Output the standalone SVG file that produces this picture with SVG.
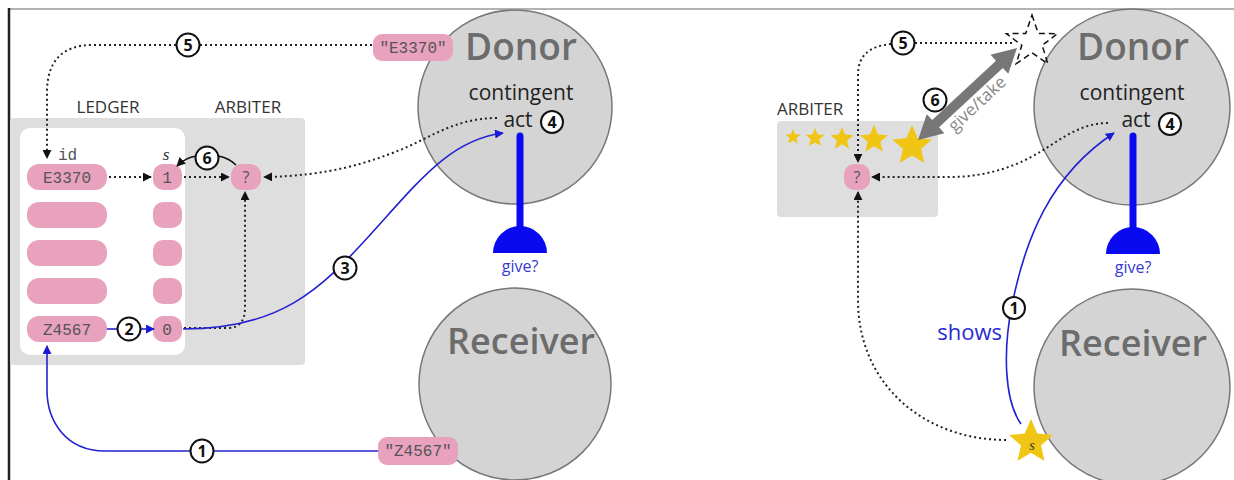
<svg xmlns="http://www.w3.org/2000/svg" width="1234" height="480" viewBox="0 0 1234 480">
<style>
.sans{font-family:"Open Sans","Noto Sans","DejaVu Sans",sans-serif}
.mono{font-family:"Liberation Mono","DejaVu Sans Mono",monospace;font-size:16px;fill:#555}
.pill{fill:#e8a2bd}
.big{fill:#d4d4d4;stroke:#777;stroke-width:1.5}
.title{font-family:"Open Sans","Noto Sans",sans-serif;font-weight:600;fill:#6c6c6c;text-anchor:middle}
.lbl{font-family:"Open Sans","Noto Sans",sans-serif;font-size:17px;fill:#333}
.ctx{font-family:"Open Sans","Noto Sans",sans-serif;font-size:21px;fill:#222;text-anchor:middle}
.dot{fill:none;stroke:#222;stroke-width:2;stroke-dasharray:2 3}
.blue{fill:none;stroke:#2222d0;stroke-width:1.6}
.num circle{fill:#fff;stroke:#111;stroke-width:2}
.num text{font-family:"Open Sans","DejaVu Sans",sans-serif;font-weight:bold;font-size:16px;fill:#111;text-anchor:middle}
.star{fill:#f1c514}
.stick{stroke:#0a0af0;stroke-width:7;stroke-linecap:round}
.give{font-family:"Open Sans","Noto Sans",sans-serif;font-size:16px;fill:#3a3ad0;text-anchor:middle}
</style>
<defs>
<marker id="ak" viewBox="0 0 10 10" refX="9" refY="5" markerWidth="9" markerHeight="9" markerUnits="userSpaceOnUse" orient="auto"><path d="M0,0 L10,5 L0,10 z" fill="#111"/></marker>
<marker id="ab" viewBox="0 0 10 10" refX="9" refY="5" markerWidth="9" markerHeight="9" markerUnits="userSpaceOnUse" orient="auto"><path d="M0,0 L10,5 L0,10 z" fill="#1a1ad8"/></marker>
</defs>
<rect x="0" y="0" width="1234" height="480" fill="#fff"/>
<line x1="8" y1="9" x2="1234" y2="9" stroke="#666" stroke-width="1.2"/>
<line x1="9" y1="8" x2="9" y2="480" stroke="#222" stroke-width="2.5"/>

<!-- LEFT PANEL -->
<g id="arbiter-left">
<rect x="10" y="118" width="295" height="247" rx="4" fill="#dedede"/>
<text class="lbl" x="248" y="113" text-anchor="middle">ARBITER</text>
<rect x="231" y="164" width="30" height="26" rx="11" class="pill"/>
<text class="sans" x="246" y="183" font-size="16" fill="#555" text-anchor="middle">?</text>
</g>
<g id="ledger">
<rect x="20" y="128" width="165" height="227" rx="10" fill="#fff"/>
<text class="lbl" x="108" y="113" text-anchor="middle">LEDGER</text>
<text class="mono" x="58" y="160">id</text>
<text x="166" y="160" font-family="Liberation Serif,serif" font-style="italic" font-size="17" fill="#333" text-anchor="middle">s</text>
<rect x="27" y="164" width="80" height="26" rx="12" class="pill"/>
<rect x="27" y="202" width="80" height="26" rx="12" class="pill"/>
<rect x="27" y="240" width="80" height="26" rx="12" class="pill"/>
<rect x="27" y="278" width="80" height="26" rx="12" class="pill"/>
<rect x="27" y="316" width="80" height="26" rx="12" class="pill"/>
<rect x="153" y="164" width="29" height="26" rx="10" class="pill"/>
<rect x="153" y="202" width="29" height="26" rx="10" class="pill"/>
<rect x="153" y="240" width="29" height="26" rx="10" class="pill"/>
<rect x="153" y="278" width="29" height="26" rx="10" class="pill"/>
<rect x="153" y="316" width="29" height="26" rx="10" class="pill"/>
<text class="mono" x="67" y="183" text-anchor="middle">E3370</text>
<text class="mono" x="67" y="335" text-anchor="middle">Z4567</text>
<text class="mono" x="167" y="183" text-anchor="middle">1</text>
<text class="mono" x="167" y="335" text-anchor="middle">0</text>
</g>
<g id="donor-left">
<circle cx="515" cy="107" r="97" class="big"/>
<text class="title" x="521" y="60" font-size="37">Donor</text>
<text class="ctx" x="521" y="100">contingent</text>
<text class="ctx" x="518" y="127">act</text>
<line x1="520" y1="136" x2="520" y2="232" class="stick"/>
<path d="M493,253 A27,27 0 0 1 547,253 Z" fill="#0a0af0"/>
<text class="give" x="520" y="272">give?</text>
</g>
<g id="receiver-left">
<circle cx="515" cy="384" r="96" class="big"/>
<text class="title" x="521" y="354" font-size="36">Receiver</text>
</g>
<g id="tag-e3370">
<rect x="373" y="34" width="80" height="27" rx="9" class="pill"/>
<text class="mono" x="413" y="53" text-anchor="middle">"E3370"</text>
</g>
<g id="tag-z4567">
<rect x="378" y="437" width="80" height="28" rx="9" class="pill"/>
<text class="mono" x="418" y="456" text-anchor="middle">"Z4567"</text>
</g>
<g id="connectors-left">
<path class="dot" d="M372,45 L200,45"/>
<path class="dot" d="M176,45 L92,45 C62,45 47,62 47,92 L47,158" marker-end="url(#ak)"/>
<path class="dot" d="M109,177 L151,177" marker-end="url(#ak)"/>
<path class="dot" d="M184,177 L229,177" marker-end="url(#ak)"/>
<path class="dot" d="M497,118 C455,118 430,138 400,150 S330,176 264,177" marker-end="url(#ak)"/>
<path class="dot" d="M184,328 L228,328 C240,328 245,320 245,308 L245,192" marker-end="url(#ak)"/>
<path d="M197,156 Q186,157 177,166" fill="none" stroke="#111" stroke-width="1.6" marker-end="url(#ak)"/>
<path d="M218,156 Q229,158 236,165" fill="none" stroke="#111" stroke-width="1.6"/>
<path class="blue" d="M107,329 L117,329"/>
<path class="blue" d="M141,329 L154,329" marker-end="url(#ab)"/>
<path class="blue" d="M183,329 C280,329 320,290 370,235 C420,180 450,140 503,133" marker-end="url(#ab)"/>
<path class="blue" d="M378,451 L214,451"/>
<path class="blue" d="M190,451 L105,451 C65,451 47,420 47,390 L47,346" marker-end="url(#ab)"/>
<g class="num"><circle cx="188" cy="45" r="11.5"/><text x="188" y="50.5">5</text></g>
<g class="num"><circle cx="207" cy="158" r="11.5"/><text x="207" y="163.5">6</text></g>
<g class="num"><circle cx="129" cy="329" r="11.5"/><text x="129" y="334.5">2</text></g>
<g class="num"><circle cx="345" cy="268" r="11.5"/><text x="345" y="273.5">3</text></g>
<g class="num"><circle cx="552" cy="122" r="11"/><text x="552" y="127.5">4</text></g>
<g class="num"><circle cx="202" cy="451" r="11.5"/><text x="202" y="456.5">1</text></g>
</g>

<!-- RIGHT PANEL -->
<g id="arbiter-right">
<rect x="777" y="121" width="161" height="96" rx="4" fill="#dedede"/>
<text class="lbl" x="777" y="115">ARBITER</text>
<polygon class="star" points="793,129 795.1,134.2 800.6,134.5 796.4,138.1 797.7,143.5 793,140.5 788.3,143.5 789.6,138.1 785.4,134.5 790.9,134.2"/>
<polygon class="star" points="815,128 817.6,134.4 824.5,134.9 819.2,139.3 820.9,146.1 815,142.4 809.1,146.1 810.8,139.3 805.5,134.9 812.4,134.4"/>
<polygon class="star" points="842,127 845.2,134.6 853.4,135.3 847.1,140.6 849.1,148.7 842,144.3 834.9,148.7 836.9,140.6 830.6,135.3 838.8,134.6"/>
<polygon class="star" points="874,125 878.0,134.4 888.0,135.2 880.3,141.8 882.7,151.6 874,146.3 865.3,151.6 867.7,141.8 860.0,135.2 870.0,134.4"/>
<polygon class="star" points="912,125 917.6,138.2 931.8,139.5 921.0,148.8 924.3,162.7 912,155.4 899.7,162.7 903.0,148.8 892.2,139.5 906.4,138.2"/>
<rect x="844" y="164" width="26" height="26" rx="10" class="pill"/>
<text class="sans" x="857" y="183" font-size="16" fill="#555" text-anchor="middle">?</text>
</g>
<g id="donor-right">
<circle cx="1132" cy="107" r="98" class="big"/>
<text class="title" x="1133" y="60" font-size="37">Donor</text>
<text class="ctx" x="1132" y="100">contingent</text>
<text class="ctx" x="1136" y="127">act</text>
<line x1="1133" y1="136" x2="1133" y2="232" class="stick"/>
<path d="M1106,254 A27,27 0 0 1 1160,254 Z" fill="#0a0af0"/>
<text class="give" x="1133" y="273">give?</text>
</g>
<g id="receiver-right">
<circle cx="1132" cy="387" r="98" class="big"/>
<text class="title" x="1133" y="356" font-size="36">Receiver</text>
</g>
<g id="gold-star-s">
<polygon class="star" points="1031,419 1037.2,433.6 1052.9,435.0 1041.0,445.4 1044.6,460.9 1031,452.7 1017.4,460.9 1021.0,445.4 1009.1,435.0 1024.8,433.6"/>
<text x="1032" y="450" font-family="Liberation Serif,serif" font-style="italic" font-size="14" fill="#333" text-anchor="middle">s</text>
</g>
<g id="give-take">
<polygon points="918,140 944.4,133.2 939.0,127.3 1002.8,68.0 1008.3,73.8 1017,48 990.6,54.8 996.0,60.7 932.2,120.0 926.7,114.2" fill="#777"/>
<text class="sans" x="981" y="108" font-size="17" fill="#888" text-anchor="middle" transform="rotate(-42.9 981 108)">give/take</text>
</g>
<g id="empty-star">
<polygon points="1032,15 1038.3,33.4 1057.5,33.7 1042.2,45.3 1047.8,63.7 1032,52.8 1016.2,63.7 1021.8,45.3 1006.5,33.7 1025.7,33.4" fill="none" stroke="#111" stroke-width="1.5" stroke-dasharray="6 4"/>
</g>
<g id="connectors-right">
<path class="dot" d="M915,43 L1012,43"/>
<path class="dot" d="M891,44 C870,46 858,55 858,75 L858,162" marker-end="url(#ak)"/>
<path class="dot" d="M1108,123 C1080,123 1060,140 1040,152 S990,177 950,177 L872,177" marker-end="url(#ak)"/>
<path class="dot" d="M1006,440 C925,440 858,385 858,300 L858,192" marker-end="url(#ak)"/>
<path class="blue" d="M1021,424 C1004,400 1003,350 1012,305 C1025,240 1050,175 1114,133" marker-end="url(#ab)"/>
<text class="sans" x="1002" y="340" font-size="22" fill="#2a2ad0" text-anchor="end">shows</text>
<g class="num"><circle cx="903" cy="43" r="11.5"/><text x="903" y="48.5">5</text></g>
<g class="num"><circle cx="935" cy="100" r="11.5"/><text x="935" y="105.5">6</text></g>
<g class="num"><circle cx="1170" cy="124" r="11"/><text x="1170" y="129.5">4</text></g>
<g class="num"><circle cx="1014" cy="308" r="11"/><text x="1014" y="313.5">1</text></g>
</g>
</svg>
